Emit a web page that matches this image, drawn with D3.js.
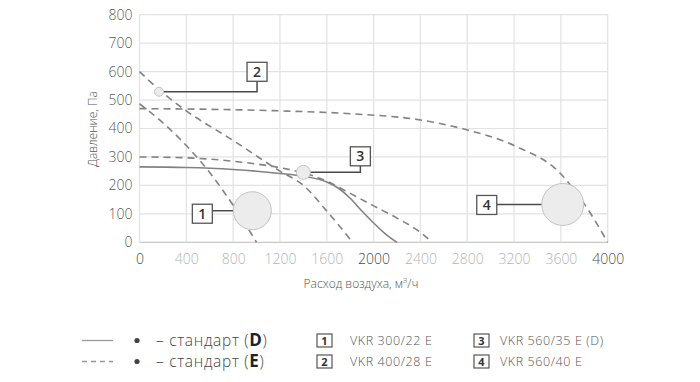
<!DOCTYPE html>
<html>
<head>
<meta charset="utf-8">
<script src="https://cdn.jsdelivr.net/npm/d3@7/dist/d3.min.js"></script>
<style>
  html, body { margin: 0; padding: 0; background: #fff; }
  svg { display: block; }
  text { font-family: "Open Sans", Lato, sans-serif; }
</style>
</head>
<body>
<svg id="chart" width="700" height="382"></svg>
<script>
// ---------- data ----------
const xTicks = [0, 400, 800, 1200, 1600, 2000, 2400, 2800, 3200, 3600, 4000];
const xTickDark = [0, 2000, 4000];
const yTicks = [0, 100, 200, 300, 400, 500, 600, 700, 800];

// VKR 300/22 E (dashed)
const s1Flow = [0, 200, 400, 600, 800, 1000];
const s1Pres = [487, 420, 340, 245, 130, 0];
// VKR 400/28 E (dashed)
const s2Flow = [0, 200, 400, 800, 1200, 1400, 1600, 1820];
const s2Pres = [600, 525, 462, 358, 250, 200, 110, 0];
// VKR 560/35 E (dashed)
const s3eFlow = [0, 400, 800, 1200, 1400, 1600, 1800, 2000, 2200, 2400, 2500];
const s3ePres = [300, 297, 285, 262, 244, 215, 172, 128, 85, 35, 0];
// VKR 560/35 D (solid)
const s3dFlow = [0, 400, 800, 1200, 1400, 1600, 1700, 1800, 1900, 2000, 2100, 2200];
const s3dPres = [265, 263, 256, 242, 232, 212, 190, 155, 110, 68, 30, 0];
// VKR 560/40 E (dashed)
const s4Flow = [0, 800, 1200, 1800, 2400, 2800, 3200, 3600, 3800, 4000];
const s4Pres = [470, 466, 462, 452, 430, 395, 340, 240, 135, 0];

// operating points
const pointLabels = ["1", "2", "3", "4"];
const pointFlow = [964, 167, 1400, 3616];
const pointPres = [111, 529, 246, 133];

const legendModels = ["VKR 300/22 E", "VKR 400/28 E", "VKR 560/35 E (D)", "VKR 560/40 E"];

// ---------- layout / style ----------
const svg = d3.select("#chart");
const x = d3.scaleLinear().domain([0, 4000]).range([139.5, 607.7]);
const y = d3.scaleLinear().domain([0, 800]).range([242.3, 14.7]);
const curveColor = "#828282";

// grid
const g = svg.append("g");
g.append("g").selectAll("line").data(yTicks).join("line")
  .attr("x1", x(0)).attr("x2", x(4000))
  .attr("y1", d => y(d)).attr("y2", d => y(d))
  .attr("stroke", d => d === 0 ? "#c8c8c8" : "#e2e2e2").attr("stroke-width", 1.2);
g.append("g").selectAll("line").data(xTicks).join("line")
  .attr("x1", d => x(d)).attr("x2", d => x(d))
  .attr("y1", y(0)).attr("y2", y(800))
  .attr("stroke", "#e2e2e2").attr("stroke-width", 1.2);

// axes via d3 axis generators (domain hidden, labels styled)
const xAxis = svg.append("g").attr("transform", `translate(0,${y(0)})`)
  .call(d3.axisBottom(x).tickValues(xTicks).tickSize(0).tickPadding(12).tickFormat(d3.format("d")));
xAxis.select(".domain").remove();
xAxis.selectAll("text")
  .attr("font-size", 14).attr("font-weight", 300)
  .attr("fill", d => xTickDark.includes(d) ? "#4a4a4a" : "#b4b4b4");

const yAxis = svg.append("g").attr("transform", `translate(${x(0)},0)`)
  .call(d3.axisLeft(y).tickValues(yTicks).tickSize(0).tickPadding(7).tickFormat(d3.format("d")));
yAxis.select(".domain").remove();
yAxis.selectAll("text").attr("font-size", 14).attr("font-weight", 300).attr("fill", "#5a5a5a");

// axis titles
svg.append("text").attr("transform", "translate(97,129) rotate(-90)")
  .attr("text-anchor", "middle").attr("font-size", 12).attr("font-weight", 300).attr("fill", "#555")
  .text("Давление, Па");
const xt = svg.append("text").attr("x", 361).attr("y", 288)
  .attr("text-anchor", "middle").attr("font-size", 12).attr("font-weight", 300).attr("fill", "#555");
xt.append("tspan").text("Расход воздуха, м");
xt.append("tspan").attr("font-size", 8).attr("dy", -5).text("3");
xt.append("tspan").attr("dy", 5).text("/ч");

// curves
const line = d3.line().x(d => x(d[0])).y(d => y(d[1])).curve(d3.curveMonotoneX);
const zip = (a, b) => a.map((v, i) => [v, b[i]]);
const series = [
  {pts: zip(s1Flow, s1Pres), dash: true},
  {pts: zip(s2Flow, s2Pres), dash: true},
  {pts: zip(s3eFlow, s3ePres), dash: true},
  {pts: zip(s4Flow, s4Pres), dash: true},
  {pts: zip(s3dFlow, s3dPres), dash: false}
];
svg.append("g").selectAll("path").data(series).join("path")
  .attr("d", d => line(d.pts))
  .attr("fill", "none").attr("stroke", curveColor).attr("stroke-width", 1.6)
  .attr("stroke-dasharray", d => d.dash ? "7,5" : null);

// operating points with label boxes
const radii = [19, 4.5, 7, 21];
// box centre offsets relative to point centre, and connector type
const boxOff = [[-50, 3, "h"], [98, -20, "up"], [57, -16, "up"], [-76, 0.5, "h"]];
const bw = 20, bh = 19;
const pts = pointLabels.map((l, i) => ({l, cx: x(pointFlow[i]), cy: y(pointPres[i]), r: radii[i], off: boxOff[i]}));

const ann = svg.append("g");
ann.selectAll("path").data(pts).join("path")
  .attr("d", d => {
    const bx = d.cx + d.off[0], by = d.cy + d.off[1];
    if (d.off[2] === "h") {
      const sx = d.off[0] < 0 ? bx + bw / 2 : bx - bw / 2;
      const ex = d.off[0] < 0 ? d.cx - d.r : d.cx + d.r;
      return `M${sx},${d.cy}H${ex}`;
    }
    return `M${d.cx + d.r},${d.cy}H${bx}V${by + bh / 2}`;
  })
  .attr("fill", "none").attr("stroke", "#4a4a4a").attr("stroke-width", 1.5);
ann.selectAll("circle").data(pts).join("circle")
  .attr("cx", d => d.cx).attr("cy", d => d.cy).attr("r", d => d.r)
  .attr("fill", "#ececec").attr("stroke", "#bdbdbd").attr("stroke-width", 0.9);
ann.selectAll("rect").data(pts).join("rect")
  .attr("x", d => d.cx + d.off[0] - bw / 2).attr("y", d => d.cy + d.off[1] - bh / 2)
  .attr("width", bw).attr("height", bh)
  .attr("fill", "#fff").attr("stroke", "#555").attr("stroke-width", 1.3);
ann.selectAll("text").data(pts).join("text")
  .attr("x", d => d.cx + d.off[0]).attr("y", d => d.cy + d.off[1] + 5)
  .attr("text-anchor", "middle").attr("font-size", 14).attr("font-weight", 600).attr("fill", "#333")
  .text(d => d.l);

// ---------- legend ----------
const lg = svg.append("g");
const rowY = [340.5, 361.5];
const styles = [{dash: null, letter: "D"}, {dash: "5,4", letter: "E"}];
styles.forEach((s, i) => {
  lg.append("line").attr("x1", 82).attr("x2", 113).attr("y1", rowY[i]).attr("y2", rowY[i])
    .attr("stroke", "#999").attr("stroke-width", 1.3).attr("stroke-dasharray", s.dash);
  lg.append("circle").attr("cx", 137).attr("cy", rowY[i]).attr("r", 2.6).attr("fill", "#444");
  const t = lg.append("text").attr("x", 156).attr("y", rowY[i] + 5.5)
    .attr("font-size", 15.5).attr("font-weight", 300).attr("fill", "#444")
    .attr("letter-spacing", 0.7);
  t.append("tspan").text("– стандарт (");
  t.append("tspan").attr("font-size", 17).attr("font-weight", 700).attr("fill", "#222").text(s.letter);
  t.append("tspan").text(")");
});
const legX = [[317, 350], [317, 350], [474, 500], [474, 500]];
const legRow = [0, 1, 0, 1];
legendModels.forEach((m, i) => {
  const cy = rowY[legRow[i]];
  lg.append("rect").attr("x", legX[i][0]).attr("y", cy - 6.5).attr("width", 15).attr("height", 13)
    .attr("fill", "#fff").attr("stroke", "#555").attr("stroke-width", 1.2);
  lg.append("text").attr("x", legX[i][0] + 7.5).attr("y", cy + 4.3).attr("text-anchor", "middle")
    .attr("font-size", 11).attr("font-weight", 700).attr("fill", "#333").text(pointLabels[i]);
  lg.append("text").attr("x", legX[i][1]).attr("y", cy + 4.5)
    .attr("font-size", 12.5).attr("font-weight", 300).attr("fill", "#555")
    .attr("letter-spacing", 0.6).text(m);
});
</script>
</body>
</html>
